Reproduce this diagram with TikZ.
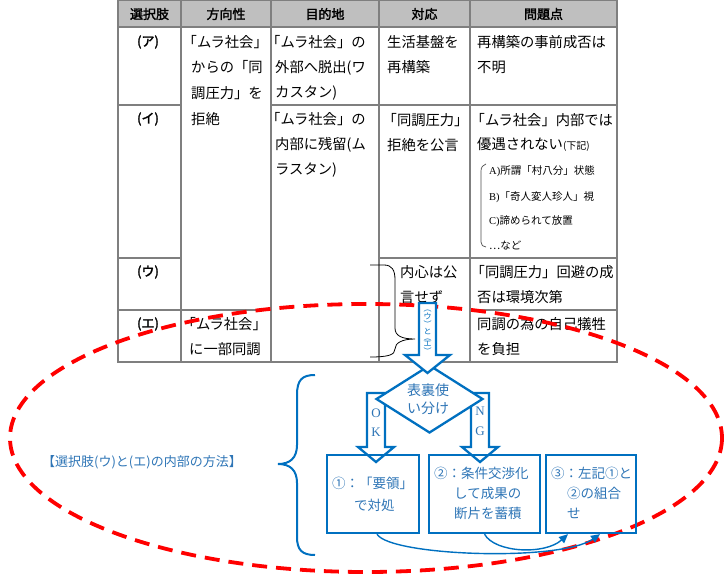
\documentclass[tikz,border=0pt]{standalone}
\usepackage{fontspec}
\setmainfont{Noto Sans CJK JP}
\newfontfamily\hdr[FakeBold=2]{Noto Sans CJK JP}
\newfontfamily\ser{Liberation Serif}
\usetikzlibrary{shapes.geometric,arrows.meta}
\definecolor{tline}{HTML}{7F7F7F}
\definecolor{hdrfill}{HTML}{BFBFBF}
\definecolor{bl}{HTML}{0070C0}
\definecolor{blt}{HTML}{2E75B6}
\definecolor{rd}{HTML}{FF0000}
\begin{document}
\begin{tikzpicture}[x=1pt,y=-1pt,
 tl/.style={draw=tline,line width=1.1pt},
 tx/.style={anchor=west,inner sep=0pt,font=\fontsize{14.3}{15}\selectfont},
 hd/.style={anchor=center,inner sep=0pt,font=\hdr\fontsize{13}{14}\selectfont},
 lst/.style={anchor=west,inner sep=0pt,font=\fontsize{10.5}{11}\selectfont},
 bx/.style={draw=bl,line width=2.3pt,minimum height=78pt,inner sep=0pt},
 btx/.style={anchor=west,inner sep=0pt,text=blt,font=\fontsize{13.5}{14}\selectfont},
 barrow/.style={draw=bl,fill=white,line width=2.3pt,line join=miter},
 conn/.style={draw=bl,line width=1.4pt,-{Triangle[length=9pt,width=8pt]}},
 oklbl/.style={inner sep=0pt,text=blt,font=\ser\fontsize{13}{14}\selectfont}]
\useasboundingbox (0,0) rectangle (726,578);
% header
\fill[hdrfill] (118,0) rectangle (617,27);
% table lines
\draw[tl] (118,0) rectangle (617,362);
\draw[tl] (118,27) -- (617,27);
\draw[tl] (181,0) -- (181,362);
\draw[tl] (271,0) -- (271,362);
\draw[tl] (379,0) -- (379,362);
\draw[tl] (470,0) -- (470,362);
\draw[tl] (118,105) -- (181,105);
\draw[tl] (271,105) -- (617,105);
\draw[tl] (118,258) -- (181,258);
\draw[tl] (379,258) -- (617,258);
\draw[tl] (118,310) -- (271,310);
\draw[tl] (470,310) -- (617,310);
% header text
\node[hd] (h1) at (149.5,14) {選択肢};
\node[hd] (h2) at (226,14) {方向性};
\node[hd] (h3) at (325,14) {目的地};
\node[hd] (h4) at (424.5,14) {対応};
\node[hd] (h5) at (543.5,14) {問題点};
% row labels
\node[hd] (ra) at (148,42) {(ア)};
\node[hd] (ri) at (148,119) {(イ)};
\node[hd] (ru) at (148,272) {(ウ)};
\node[hd] (re) at (148,324) {(エ)};
% col2
\node[tx] (c2a) at (182.5,42) {「ムラ社会」};
\node[tx] (c2b) at (191,67.5) {からの「同};
\node[tx] (c2c) at (191,93) {調圧力」を};
\node[tx] (c2d) at (191,119) {拒絶};
\node[tx] (c2e) at (181.5,324) {「ムラ社会」};
\node[tx] (c2f) at (189,349) {に一部同調};
% col3
\node[tx] (c3a) at (266,42) {「ムラ社会」の};
\node[tx] (c3b) at (275,67.5) {外部へ脱出(ワ};
\node[tx] (c3c) at (275,93) {カスタン)};
\node[tx] (c3d) at (266,119) {「ムラ社会」の};
\node[tx] (c3e) at (275,145) {内部に残留(ム};
\node[tx] (c3f) at (275,170) {ラスタン)};
% col4
\node[tx] (c4a) at (387,42) {生活基盤を};
\node[tx] (c4b) at (387,67.5) {再構築};
\node[tx] (c4c) at (382.5,120) {「同調圧力」};
\node[tx] (c4d) at (387,145) {拒絶を公言};
\node[tx] (c4e) at (400,272) {内心は公};
\node[tx] (c4f) at (400,297) {言せず};
% col5
\node[tx] (c5a) at (477,42) {再構築の事前成否は};
\node[tx] (c5b) at (477,67.5) {不明};
\node[tx] (c5c) at (470.5,120) {「ムラ社会」内部では};
\node[tx] (c5d) at (477,145) {優遇されない{\fontsize{10}{11}\selectfont(下記)}};
\node[lst] (l1) at (489,171) {{\ser A)}所謂「村八分」状態};
\node[lst] (l2) at (489,197) {{\ser B)}「奇人変人珍人」視};
\node[lst] (l3) at (489,221) {{\ser C)}諦められて放置};
\node[lst] (l4) at (489,245) {…など};
\node[tx] (c5e) at (470.5,272) {「同調圧力」回避の成};
\node[tx] (c5f) at (477,297) {否は環境次第};
\node[tx] (c5g) at (477,324) {同調の為の自己犠牲};
\node[tx] (c5h) at (477,349) {を負担};
% small brackets
\draw[black,line width=0.8pt] (370,265) -- (384,265) .. controls (392,265) and (395,270) .. (395,280) -- (395,328) .. controls (395,336) and (402,339) .. (415,339) .. controls (402,339) and (395,343) .. (395,349) .. controls (395,355) and (388,357) .. (370,357);
\draw[black!70,line width=0.7pt] (486,164) .. controls (483,165) and (481,167) .. (481,171) -- (481,242) .. controls (481,245) and (483,247) .. (486,247);
% red dashed ellipse
\draw[rd,line width=3.8pt,dash pattern=on 15pt off 9pt] (366,438) ellipse [x radius=356, y radius=134];
% blue brace and label
\draw[bl,line width=2pt] (315,375) .. controls (302,375) and (297,380) .. (297,395) -- (297,445) .. controls (297,458) and (290,464) .. (278,464) .. controls (290,464) and (297,470) .. (297,483) -- (297,537) .. controls (297,550) and (302,555) .. (315,555);
\node[anchor=west,inner sep=0pt,text=blt,font=\fontsize{13}{14}\selectfont] (lab) at (42,462) {【選択肢(ウ)と(エ)の内部の方法】};
% OK / NG arrows
\draw[barrow] (367,393) -- (385,393) -- (385,447) -- (394,447) -- (376,462) -- (358,447) -- (367,447) -- cycle;
\draw[barrow] (471,393) -- (489,393) -- (489,447) -- (498,447) -- (480,462) -- (462,447) -- (471,447) -- cycle;
% diamond
\node[diamond,draw=bl,fill=white,line width=2.3pt,minimum width=107pt,minimum height=68pt,inner sep=0pt] (dia) at (429.5,399) {};
\node[align=center,inner sep=0pt,text=blt,font=\fontsize{14}{18}\selectfont] (diatx) at (428,399) {表裏使\\い分け};
% top arrow
\draw[barrow] (419,303) -- (436,303) -- (436,355) -- (450,355) -- (427.5,373) -- (405,355) -- (419,355) -- cycle;
\node[align=center,inner sep=0pt,text=bl,font=\fontsize{8}{6.2}\selectfont] (vt) at (427.5,332) {︵\\ウ\\︶\\と\\︵\\エ\\︶};
% labels OK NG
\node[oklbl] (lo) at (376,413) {O};
\node[oklbl] (lk) at (376,432) {K};
\node[oklbl] (ln) at (480,411) {N};
\node[oklbl] (lg) at (480,431) {G};
% boxes
\node[bx,minimum width=92pt] (b1) at (373,494) {};
\node[bx,minimum width=111pt] (b2) at (484.5,494) {};
\node[bx,minimum width=90pt] (b3) at (591,494) {};
\node[btx] (b1a) at (332,483) {①：「要領」};
\node[btx] (b1b) at (354,505) {で対処};
\node[btx] (b2a) at (434,473) {②：条件交渉化};
\node[btx] (b2b) at (454,493) {して成果の};
\node[btx] (b2c) at (454,513) {断片を蓄積};
\node[btx] (b3a) at (551,473) {③：左記①と};
\node[btx] (b3b) at (567,493) {②の組合};
\node[btx] (b3c) at (567,513) {せ};
% connectors
\draw[conn] ([xshift=4pt]b1.south) .. controls (390,556) and (560,562) .. ([xshift=9pt]b3.south);
\draw[conn] (b2.south) .. controls (495,553) and (545,555) .. ([xshift=-23pt]b3.south);
\end{tikzpicture}
\end{document}
